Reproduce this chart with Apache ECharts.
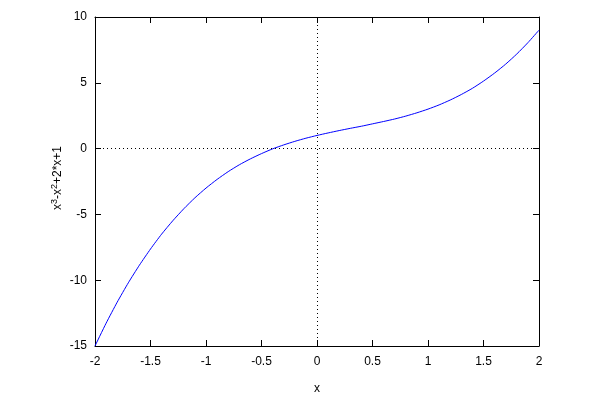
<!DOCTYPE html>
<html><head><meta charset="utf-8">
<script src="https://cdn.jsdelivr.net/npm/echarts@6/dist/echarts.min.js"></script>
<style>html,body{margin:0;padding:0;background:#fff}#c{width:600px;height:400px}</style>
</head><body><div id="c"></div>
<script>
const xValues = [-2,-1.9,-1.8,-1.7,-1.6,-1.5,-1.4,-1.3,-1.2,-1.1,-1,-0.9,-0.8,-0.7,-0.6,-0.5,-0.4,-0.3,-0.2,-0.1,0,0.1,0.2,0.3,0.4,0.5,0.6,0.7,0.8,0.9,1,1.1,1.2,1.3,1.4,1.5,1.6,1.7,1.8,1.9,2];
const yValues = [-15,-13.27,-11.67,-10.2,-8.86,-7.63,-6.5,-5.49,-4.57,-3.74,-3,-2.34,-1.75,-1.23,-0.78,-0.38,-0.02,0.28,0.55,0.79,1,1.19,1.37,1.54,1.7,1.88,2.06,2.25,2.47,2.72,3,3.32,3.69,4.11,4.58,5.13,5.74,6.42,7.19,8.05,9];
const xTicks = [-2,-1.5,-1,-0.5,0,0.5,1,1.5,2];
const yTicks = [-15,-10,-5,0,5,10];
const xName = 'x';
const yNameRich = '{n|x}{s|3}{n|-x}{s|2}{n|+2*x+1}';

const font = 'Liberation Sans, Arial, sans-serif';
const axisCommon = {
  type: 'value',
  axisLine: {show: true, onZero: false, lineStyle: {color: '#000', width: 1}},
  axisTick: {show: true, inside: true, length: 6, lineStyle: {color: '#000'}},
  splitLine: {show: false},
  axisLabel: {color: '#000', fontFamily: font, fontSize: 12}
};
const chart = echarts.init(document.getElementById('c'));
chart.setOption({
  animation: false,
  backgroundColor: '#fff',
  grid: {left: 95, right: 61, top: 17, bottom: 52, containLabel: false},
  graphic: [{
    type: 'text', x: 58, y: 178, rotation: Math.PI / 2,
    style: {
      text: yNameRich, align: 'center', verticalAlign: 'middle', fill: '#000',
      font: '12px ' + font,
      rich: {n: {fontFamily: font, fontSize: 12, fill: '#000'}, s: {fontFamily: font, fontSize: 9, fill: '#000', verticalAlign: 'top', padding: [0,0,6,0]}}
    }
  }],
  xAxis: [
    Object.assign({}, axisCommon, {min: xTicks[0], max: xTicks[xTicks.length-1], interval: 0.5,
      name: xName, nameLocation: 'middle', nameGap: 37,
      nameTextStyle: {color: '#000', fontFamily: font, fontSize: 12},
      axisLabel: Object.assign({}, axisCommon.axisLabel, {margin: 10})}),
    Object.assign({}, axisCommon, {position: 'top', min: xTicks[0], max: xTicks[xTicks.length-1], interval: 0.5,
      axisLabel: {show: false}})
  ],
  yAxis: [
    Object.assign({}, axisCommon, {min: yTicks[0], max: yTicks[yTicks.length-1], interval: 5,
      axisLabel: Object.assign({}, axisCommon.axisLabel, {margin: 8})}),
    Object.assign({}, axisCommon, {position: 'right', min: yTicks[0], max: yTicks[yTicks.length-1], interval: 5,
      axisLabel: {show: false}})
  ],
  series: [{
    type: 'line',
    data: xValues.map((x, i) => [x, yValues[i]]),
    showSymbol: false,
    smooth: 0.2,
    lineStyle: {color: '#0000ff', width: 1},
    markLine: {
      silent: true, symbol: 'none', label: {show: false},
      lineStyle: {color: '#000', type: [1, 3], width: 1},
      data: [{xAxis: 0}, {yAxis: 0}]
    }
  }]
});
</script></body></html>
